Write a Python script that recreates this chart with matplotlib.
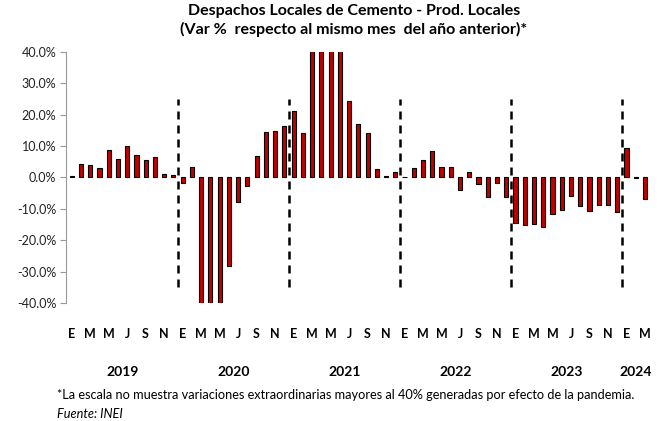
import matplotlib
matplotlib.use("Agg")
import matplotlib.pyplot as plt
import matplotlib.transforms as mtransforms
import numpy as np

plt.rcParams['font.family'] = ['Lato', 'DejaVu Sans']

# Variación % mensual (ene-2019 a mar-2024); valores fuera de +/-40% quedan recortados
var_2019 = [0.6, 4.4, 3.9, 3.1, 8.9, 5.9, 10.0, 7.1, 5.7, 6.6, 1.2, 0.7]
var_2020 = [-1.8, 3.4, -55.0, -95.0, -70.0, -28.1, -7.9, -2.7, 6.7, 14.6, 14.7, 16.3]
var_2021 = [21.3, 14.1, 80.0, 900.0, 150.0, 60.0, 24.5, 17.0, 14.1, 2.8, 0.5, 1.8]
var_2022 = [0.2, 3.0, 5.7, 8.5, 3.5, 3.5, -3.9, 1.7, -2.0, -6.3, -1.6, -6.3]
var_2023 = [-14.6, -15.3, -14.9, -15.7, -11.5, -10.4, -5.9, -9.0, -10.7, -8.8, -8.8, -11.0]
var_2024 = [9.3, -0.2, -6.7]

valores = var_2019 + var_2020 + var_2021 + var_2022 + var_2023 + var_2024
meses = ['E', 'F', 'M', 'A', 'M', 'J', 'J', 'A', 'S', 'O', 'N', 'D']
anios = ['2019', '2020', '2021', '2022', '2023', '2024']
meses_por_anio = [12, 12, 12, 12, 12, 3]

x = np.arange(len(valores))
etiquetas = [meses[i % 12] for i in x]

fig = plt.figure(figsize=(6.65, 4.21), dpi=100)
ax = fig.add_axes([0.0992, 0.2803, 0.886, 0.5962])

ax.bar(x, valores, width=0.45, color='#C00000', edgecolor='black', linewidth=0.8, zorder=2)

# separadores de año (líneas discontinuas)
cortes = np.cumsum(meses_por_anio)[:-1] - 0.5
ax.vlines(cortes, -35, 25, colors='black', linestyles=(0, (3.2, 2.4)), linewidth=1.8, zorder=3)

ax.set_ylim(-40, 40)
ax.set_xlim(-0.62, 63.1)
ax.set_yticks(np.arange(-40, 41, 10))
ax.set_yticklabels([f'{v:.1f}%' for v in np.arange(-40, 41, 10)], fontsize=9, color='#222222')

ax.set_xticks(x[::2])
ax.set_xticklabels(etiquetas[::2], fontsize=9, fontweight='bold')
ax.tick_params(axis='x', length=0, pad=18)
ax.tick_params(axis='y', length=4, color='#999999', pad=3)

for s in ['top', 'right', 'bottom']:
    ax.spines[s].set_visible(False)
ax.spines['left'].set_color('#999999')

# años centrados bajo sus meses
trans = mtransforms.blended_transform_factory(ax.transData, fig.transFigure)
inicio = 0
for anio, n in zip(anios, meses_por_anio):
    ax.text(inicio + (n - 1) / 2, 1 - 372 / 421, anio, transform=trans,
            ha='center', va='center', fontsize=10, fontweight='bold')
    inicio += n

fig.text(0.532, 1 - 4 / 421, 'Despachos Locales de Cemento - Prod. Locales\n'
         '(Var %  respecto al mismo mes  del año anterior)*',
         ha='center', va='top', fontsize=11.5, fontweight='bold', linespacing=1.32)

fig.text(57 / 665, 1 - 395 / 421,
         '*La escala no muestra variaciones extraordinarias mayores al 40% generadas por efecto de la pandemia.',
         ha='left', va='center', fontsize=9.2)
fig.text(57 / 665, 1 - 414 / 421, 'Fuente: INEI', ha='left', va='center', fontsize=9.2, style='italic')

fig.savefig('out.png', dpi=100)
